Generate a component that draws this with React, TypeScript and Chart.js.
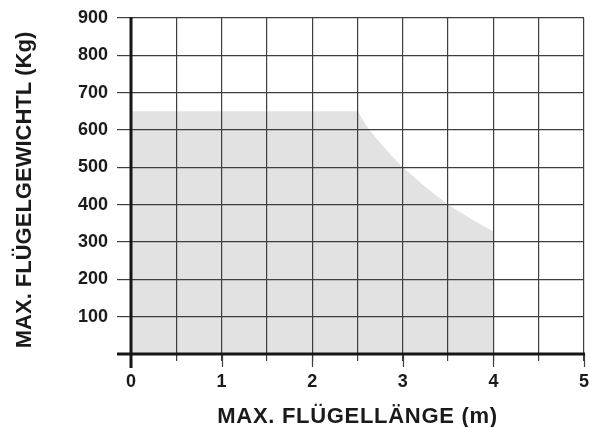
import React, { useEffect, useRef } from "react";
import { Chart, registerables } from "chart.js";

Chart.register(...registerables);

// Data
const lengthsM = [0, 2.5, 2.625, 2.75, 2.875, 3, 3.25, 3.5, 3.75, 4];
const weightsKg = [650, 650, 602, 565, 532, 500, 447, 400, 362, 328];
const xTitle = "MAX. FLÜGELLÄNGE (m)";
const yTitle = "MAX. FLÜGELGEWICHTL (Kg)";
const xMin = 0, xMax = 5, xStep = 0.5;
const yMin = 0, yMax = 900, yStep = 100;

const FONT = '"Liberation Sans", Arial, Helvetica, sans-serif';
const GRID = "#3e3e3e";
const AXIS = "#161616";

const decorPlugin = {
  id: "decor",
  afterDraw(chart: any) {
    const { ctx, chartArea } = chart;
    const { left, right, top, bottom } = chartArea;
    const xs = chart.scales.x;
    ctx.save();
    // longer ticks on integer values
    ctx.strokeStyle = GRID;
    ctx.lineWidth = 1.2;
    xs.ticks.forEach((t: any) => {
      if (Number.isInteger(t.value) && t.value !== 0) {
        const px = Math.round(xs.getPixelForValue(t.value)) + 0.5;
        ctx.beginPath();
        ctx.moveTo(px, bottom);
        ctx.lineTo(px, bottom + 13);
        ctx.stroke();
      }
    });
    // axes
    ctx.strokeStyle = AXIS;
    ctx.lineWidth = 3;
    ctx.beginPath();
    ctx.moveTo(left, top - 1);
    ctx.lineTo(left, bottom + 14);
    ctx.stroke();
    ctx.beginPath();
    ctx.moveTo(left - 14, bottom);
    ctx.lineTo(right + 1, bottom);
    ctx.stroke();
    // titles
    ctx.fillStyle = "#1a1a1a";
    ctx.font = `bold 22px ${FONT}`;
    ctx.textAlign = "center";
    ctx.textBaseline = "alphabetic";
    try { (ctx as any).letterSpacing = "0.7px"; } catch (e) {}
    ctx.fillText(xTitle, (left + right) / 2, 423);
    try { (ctx as any).letterSpacing = "0px"; } catch (e) {}
    ctx.translate(31, (top + bottom) / 2 + 4);
    ctx.rotate(-Math.PI / 2);
    ctx.fillText(yTitle, 0, 0);
    ctx.restore();
  },
};

export default function App() {
  const ref = useRef<HTMLCanvasElement | null>(null);
  useEffect(() => {
    if (!ref.current) return;
    const chart = new Chart(ref.current, {
      type: "line",
      data: {
        datasets: [
          {
            data: lengthsM.map((x, i) => ({ x, y: weightsKg[i] })),
            borderWidth: 0,
            borderColor: "rgba(0,0,0,0)",
            backgroundColor: "#e2e2e2",
            fill: "origin",
            pointRadius: 0,
            tension: 0,
          },
        ],
      },
      options: {
        animation: false,
        responsive: false,
        layout: { padding: { left: 0, right: 6, top: 18, bottom: 0 } },
        plugins: { legend: { display: false }, tooltip: { enabled: false } },
        scales: {
          x: {
            type: "linear",
            min: xMin,
            max: xMax,
            afterFit: (s: any) => {
              s.height = 73;
              s.paddingLeft = 0;
              s.paddingRight = 0;
            },
            ticks: {
              stepSize: xStep,
              padding: 10,
              color: "#1a1a1a",
              font: { family: FONT, size: 18, weight: "bold" },
              callback: (v: any) => (Number.isInteger(v) ? String(v) : ""),
              maxRotation: 0,
              autoSkip: false,
            },
            grid: { color: GRID, lineWidth: 1.2, tickLength: 7, z: 1, tickColor: GRID },
            border: { display: false },
          },
          y: {
            min: yMin,
            max: yMax,
            afterFit: (s: any) => {
              s.width = 131;
              s.paddingTop = 0;
              s.paddingBottom = 0;
            },
            ticks: {
              stepSize: yStep,
              padding: 9,
              color: "#1a1a1a",
              font: { family: FONT, size: 18, weight: "bold" },
              callback: (v: any) => (v === 0 ? "" : String(v)),
            },
            grid: { color: GRID, lineWidth: 1.2, tickLength: 14, z: 1, tickColor: GRID },
            border: { display: false },
          },
        },
      },
      plugins: [decorPlugin],
    });
    return () => chart.destroy();
  }, []);
  return (
    <div style={{ position: "fixed", left: 0, top: 0, width: 590, height: 427, background: "#fff" }}>
      <canvas ref={ref} width={590} height={427} style={{ display: "block" }} />
    </div>
  );
}
